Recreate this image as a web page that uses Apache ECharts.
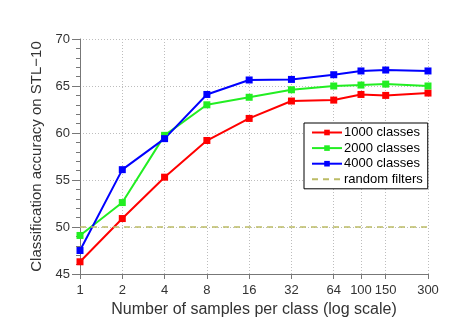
<!DOCTYPE html>
<html>
<head>
<meta charset="utf-8">
<script src="https://cdn.jsdelivr.net/npm/echarts@6/dist/echarts.min.js"></script>
<style>html,body{margin:0;padding:0;background:#fff}#c{width:476px;height:330px}</style>
</head>
<body>
<div id="c"></div>
<script>
var samples = [1, 2, 4, 8, 16, 32, 64, 100, 150, 300];
var xTicks = [1, 2, 4, 8, 16, 32, 64, 100, 150, 300];
var classes1000 = [46.3, 50.9, 55.3, 59.2, 61.55, 63.4, 63.5, 64.1, 64.0, 64.25];
var classes2000 = [49.1, 52.6, 59.75, 63.0, 63.8, 64.6, 65.0, 65.1, 65.2, 65.0];
var classes4000 = [47.5, 56.1, 59.4, 64.1, 65.64, 65.7, 66.2, 66.6, 66.7, 66.6];
var randomFilters = 50;

function pairs(vals) { return samples.map(function (s, i) { return [s, vals[i]]; }); }
var font = 'Liberation Sans, Arial, sans-serif';
var chart = echarts.init(document.getElementById('c'));
var grid = { type: [1, 2], color: '#bdbdbd', width: 1 };
function lineSeries(name, color, vals) {
  return {
    name: name, type: 'line', data: pairs(vals), symbol: 'rect', symbolSize: 7,
    lineStyle: { color: color, width: 2 }, itemStyle: { color: color }, animation: false
  };
}
chart.setOption({
  animation: false,
  grid: { left: 80, right: 48, top: 39, bottom: 56, containLabel: false },
  xAxis: {
    type: 'log', logBase: 2, min: 1, max: 300,
    name: 'Number of samples per class (log scale)', nameLocation: 'middle', nameGap: 24,
    nameTextStyle: { fontFamily: font, fontSize: 16, color: '#333' },
    axisLine: { lineStyle: { color: '#777' } },
    axisTick: { customValues: xTicks, length: 5, lineStyle: { color: '#777' } },
    axisLabel: { customValues: xTicks, fontFamily: font, fontSize: 13, color: '#333', margin: 10 },
    splitLine: { show: true, lineStyle: grid },
    minorTick: { show: false }
  },
  yAxis: {
    type: 'value', min: 45, max: 70, interval: 5,
    name: 'Classification accuracy on STL\u221210', nameLocation: 'middle', nameGap: 28,
    nameTextStyle: { fontFamily: font, fontSize: 15, color: '#333' },
    axisLine: { show: true, lineStyle: { color: '#777' } },
    axisTick: { show: true, length: 8, lineStyle: { color: '#777' } },
    minorTick: { show: true, splitNumber: 5, length: 4, lineStyle: { color: '#777' } },
    axisLabel: { fontFamily: font, fontSize: 13, color: '#333', margin: 10 },
    splitLine: { show: true, lineStyle: grid }
  },
  legend: {
    orient: 'vertical', left: 304, top: 123,
    backgroundColor: '#fff', borderColor: '#000', borderWidth: 1,
    padding: [2, 5, 2, 7], itemWidth: 30, itemHeight: 7, itemGap: 0.6,
    textStyle: { fontFamily: font, fontSize: 13, color: '#000', lineHeight: 15, padding: [0, 0, 0, -3] },
    data: ['1000 classes', '2000 classes', '4000 classes', { name: 'random filters', itemStyle: { opacity: 0 } }]
  },
  series: [
    lineSeries('1000 classes', '#ff0000', classes1000),
    lineSeries('2000 classes', '#22ee22', classes2000),
    lineSeries('4000 classes', '#0000ff', classes4000),
    {
      name: 'random filters', type: 'line', symbol: 'none',
      data: [[samples[0], randomFilters], [samples[samples.length - 1], randomFilters]],
      lineStyle: { color: '#bcbc66', width: 1.5, type: [6, 5] }, itemStyle: { color: '#bcbc66' }
    }
  ]
});
</script>
</body>
</html>
